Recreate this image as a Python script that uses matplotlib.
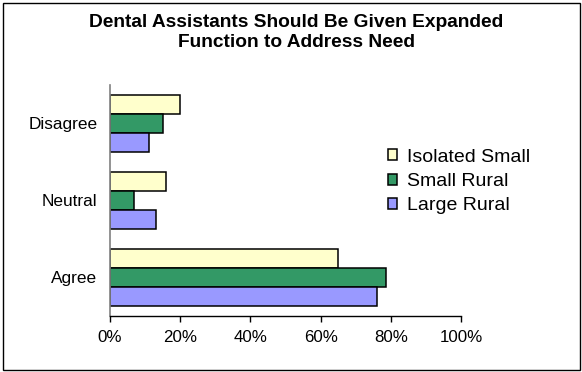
import matplotlib
matplotlib.use("Agg")
import matplotlib.pyplot as plt
import numpy as np
from matplotlib.patches import Rectangle

plt.rcParams['font.family'] = ['Liberation Sans', 'DejaVu Sans']

categories = ["Agree", "Neutral", "Disagree"]
series_names = ["Isolated Small", "Small Rural", "Large Rural"]
isolated_small = [0.65, 0.16, 0.20]
small_rural = [0.785, 0.067, 0.15]
large_rural = [0.76, 0.13, 0.112]
series_values = [isolated_small, small_rural, large_rural]
colors = ["#FFFFCC", "#339966", "#9999FF"]
x_ticks = [0, 0.2, 0.4, 0.6, 0.8, 1.0]
x_tick_labels = ["0%", "20%", "40%", "60%", "80%", "100%"]

W, H = 582, 372
fig = plt.figure(figsize=(W / 100, H / 100), dpi=100)
ax = fig.add_axes([110 / W, 56 / H, 351 / W, 231 / H])

y = np.arange(len(categories))
bar_h = 0.25
offsets = [bar_h, 0.0, -bar_h]
handles = []
for vals, off, col, name in zip(series_values, offsets, colors, series_names):
    b = ax.barh(y + off, vals, height=bar_h, color=col, edgecolor="black",
                linewidth=1.1, label=name)
    handles.append(b)

ax.set_xlim(0, 1.0)
ax.set_ylim(-0.5, len(categories) - 0.5)
ax.set_xticks(x_ticks)
ax.set_xticklabels(x_tick_labels, fontsize=12.2)
ax.set_yticks(y)
ax.set_yticklabels(categories, fontsize=12.4)
ax.tick_params(axis="y", length=0, pad=9)
ax.tick_params(axis="x", length=4, width=1, direction="out", pad=6)
for s in ["top", "right"]:
    ax.spines[s].set_visible(False)
ax.spines["left"].set_color("#808080")
ax.spines["left"].set_linewidth(1.2)
ax.spines["bottom"].set_color("black")
ax.spines["bottom"].set_linewidth(1.0)

fig.text(0.509, 1 - 14 / H,
         "Dental Assistants Should Be Given Expanded\nFunction to Address Need",
         ha="center", va="top", fontsize=13.8, fontweight="bold", linespacing=1.2)

leg = fig.legend(handles=handles, loc="upper left",
                 bbox_to_anchor=(378 / W, 1 - 139 / H), frameon=False,
                 fontsize=14, handlelength=0.5, handleheight=0.5,
                 handletextpad=0.5, labelspacing=0.38, borderpad=0)

fig.patches.append(Rectangle((2.5 / W, 2.5 / H), (W - 5) / W, (H - 5) / H,
                             transform=fig.transFigure, fill=False,
                             edgecolor="black", linewidth=1.0))

fig.savefig("out.png", dpi=100)
